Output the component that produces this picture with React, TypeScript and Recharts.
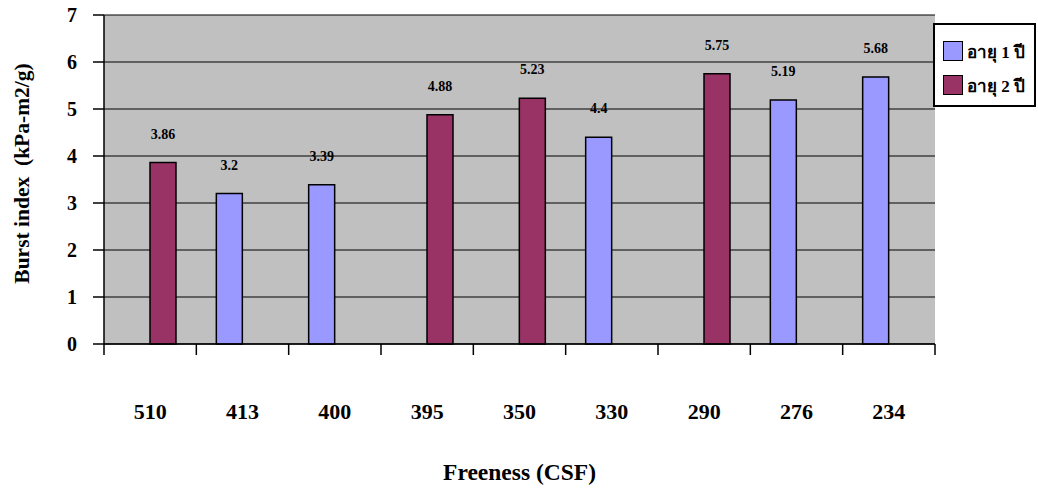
import React from 'react';
import { BarChart, Bar, XAxis, YAxis, CartesianGrid, LabelList, Legend } from 'recharts';

// Freeness levels (CSF) along the x axis
const freeness = ['510', '413', '400', '395', '350', '330', '290', '276', '234'];
// Burst index (kPa-m2/g) for 1-year-old pulp
const age1: (number | null)[] = [null, 3.2, 3.39, null, null, 4.4, null, 5.19, 5.68];
// Burst index (kPa-m2/g) for 2-year-old pulp
const age2: (number | null)[] = [3.86, null, null, 4.88, 5.23, null, 5.75, null, null];
const yTicks = [0, 1, 2, 3, 4, 5, 6, 7];

const SERIES_1 = 'อายุ 1 ปี';
const SERIES_2 = 'อายุ 2 ปี';
const X_TITLE = 'Freeness (CSF)';
const Y_TITLE = 'Burst index  (kPa-m2/g)';

const data = freeness.map((f, i) => ({ freeness: f, a1: age1[i], a2: age2[i] }));

const W = 1038;
const H = 489;
const MARGIN = { top: 15, right: 103, bottom: 0, left: 0 };
const Y_AXIS_W = 104;
const X_AXIS_H = 145;
const PLOT_W = W - MARGIN.left - MARGIN.right - Y_AXIS_W;
const BAND = PLOT_W / freeness.length;

const FONT = 'Liberation Serif';
const BLUE = '#9999FF';
const MAROON = '#993366';

function XTick(props: any) {
  const { x, y, payload, index } = props;
  const half = BAND / 2;
  const last = index === freeness.length - 1;
  return (
    <g>
      <line x1={x - half} x2={x - half} y1={y} y2={y + 11} stroke="#000" strokeWidth={1.5} />
      {last && <line x1={x + half} x2={x + half} y1={y} y2={y + 11} stroke="#000" strokeWidth={1.5} />}
      <text
        x={x}
        y={y + 67}
        textAnchor="middle"
        dominantBaseline="central"
        fontFamily={FONT}
        fontWeight="bold"
        fontSize={22}
        fill="#000"
      >
        {payload.value}
      </text>
    </g>
  );
}

function YTitle(props: any) {
  const vb = props.viewBox || { x: 0, y: 0, width: 0, height: 0 };
  const cx = vb.x + 22;
  const cy = vb.y + vb.height / 2 - 6;
  return (
    <text
      x={cx}
      y={cy}
      transform={`rotate(-90 ${cx} ${cy})`}
      textAnchor="middle"
      dominantBaseline="central"
      fontFamily={FONT}
      fontWeight="bold"
      fontSize={21.5}
      fill="#000"
      style={{ whiteSpace: 'pre' }}
    >
      {Y_TITLE}
    </text>
  );
}

function LegendBox(props: any) {
  const items = props.payload || [];
  return (
    <div
      style={{
        boxSizing: 'border-box',
        width: 103,
        height: 84,
        border: '2px solid #000',
        background: '#fff',
        padding: '9px 0 0 8px',
      }}
    >
      {items.map((it: any) => (
        <div key={it.value} style={{ display: 'flex', alignItems: 'center', height: 34 }}>
          <span
            style={{
              display: 'inline-block',
              boxSizing: 'border-box',
              width: 20,
              height: 20,
              background: it.color,
              border: '1.5px solid #000',
              marginRight: 4,
              flex: 'none',
            }}
          />
          <span style={{ fontFamily: FONT, fontWeight: 'bold', fontSize: 17, color: '#000', whiteSpace: 'nowrap' }}>
            {it.value}
          </span>
        </div>
      ))}
    </div>
  );
}

const valueLabelStyle = { fontFamily: FONT, fontWeight: 'bold', fontSize: 14, fill: '#000' };

export default function App() {
  return (
    <div style={{ position: 'absolute', left: 0, top: 0, width: W, height: H, background: '#fff' }}>
      <BarChart width={W} height={H} data={data} margin={MARGIN} barGap={0} barSize={26}>
        <CartesianGrid vertical={false} stroke="#000" strokeWidth={1.2} fill="#C0C0C0" fillOpacity={1} />
        <XAxis
          dataKey="freeness"
          height={X_AXIS_H}
          interval={0}
          tickSize={0}
          tickMargin={0}
          tickLine={false}
          axisLine={{ stroke: '#000', strokeWidth: 1.5 }}
          tick={<XTick />}
          label={{ value: X_TITLE, position: 'insideBottom', offset: 9, fontFamily: FONT, fontWeight: 'bold', fontSize: 23.5, fill: '#000' }}
        />
        <XAxis
          xAxisId="top"
          orientation="top"
          dataKey="freeness"
          height={0}
          tick={false}
          tickLine={false}
          axisLine={{ stroke: '#808080', strokeWidth: 1.5 }}
        />
        <YAxis
          width={Y_AXIS_W}
          domain={[0, 7]}
          ticks={yTicks}
          interval={0}
          tickSize={11}
          tickMargin={16}
          axisLine={{ stroke: '#000', strokeWidth: 1.5 }}
          tickLine={{ stroke: '#000', strokeWidth: 1.5 }}
          tick={{ fontFamily: FONT, fontWeight: 'bold', fontSize: 20, fill: '#000' }}
          label={<YTitle />}
        />
        <YAxis
          yAxisId="right"
          orientation="right"
          width={0}
          domain={[0, 7]}
          tick={false}
          tickLine={false}
          axisLine={{ stroke: '#808080', strokeWidth: 1.5 }}
        />
        <Legend
          layout="vertical"
          align="center"
          verticalAlign="middle"
          content={<LegendBox />}
          wrapperStyle={{ position: 'absolute', left: 933, top: 23, width: 103, height: 84 }}
        />
        <Bar dataKey="a1" name={SERIES_1} fill={BLUE} stroke="#000" strokeWidth={1.5} isAnimationActive={false}>
          <LabelList dataKey="a1" position="top" offset={24} style={valueLabelStyle} />
        </Bar>
        <Bar dataKey="a2" name={SERIES_2} fill={MAROON} stroke="#000" strokeWidth={1.5} isAnimationActive={false}>
          <LabelList dataKey="a2" position="top" offset={24} style={valueLabelStyle} />
        </Bar>
      </BarChart>
    </div>
  );
}
